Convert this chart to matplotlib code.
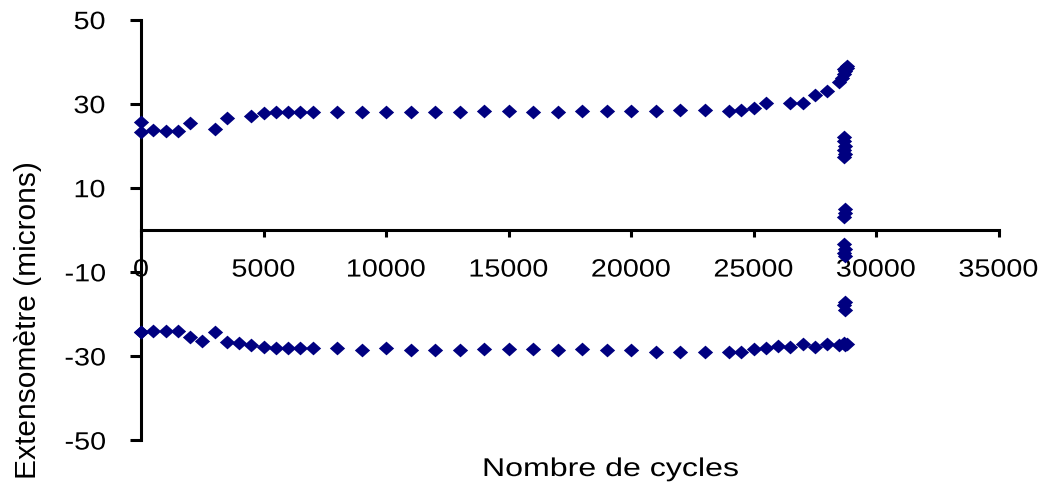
import numpy as np
import matplotlib
matplotlib.use("Agg")
import matplotlib.pyplot as plt
from matplotlib.patheffects import AbstractPathEffect
from matplotlib.transforms import Affine2D
from matplotlib.path import Path

plt.rcParams['font.family'] = ['Liberation Sans', 'DejaVu Sans']
plt.rcParams['axes.unicode_minus'] = False

# maximum of each cycle (upper branch)
cycles_up = [0, 0, 500, 1000, 1500, 2000, 3000, 3500, 4500, 5000, 5500, 6000, 6500, 7000,
             8000, 9000, 10000, 11000, 12000, 13000, 14000, 15000, 16000, 17000, 18000,
             19000, 20000, 21000, 22000, 23000, 24000, 24500, 25000, 25500, 26500, 27000,
             27500, 28000, 28500]
ext_up = [25.7, 23.3, 23.7, 23.6, 23.6, 25.3, 24.0, 26.5, 27.1, 27.7, 27.9, 27.9, 27.9, 27.9,
          27.9, 27.9, 27.9, 27.9, 27.9, 27.9, 28.3, 28.3, 27.9, 27.9, 28.3,
          28.2, 28.3, 28.2, 28.6, 28.6, 28.2, 28.6, 29.0, 30.2, 30.2, 30.2,
          32.0, 33.1, 35.2]

# minimum of each cycle (lower branch)
cycles_low = [0, 0, 500, 1000, 1500, 2000, 2500, 3000, 3500, 4000, 4500, 5000, 5500, 6000,
              6500, 7000, 8000, 9000, 10000, 11000, 12000, 13000, 14000, 15000, 16000,
              17000, 18000, 19000, 20000, 21000, 22000, 23000, 24000, 24500, 25000, 25500,
              26000, 26500, 27000, 27500, 28000, 28500]
ext_low = [-24.2, -24.2, -24.0, -24.0, -24.0, -25.4, -26.4, -24.4, -26.6, -27.0, -27.4, -27.8,
           -28.0, -28.2, -28.0, -28.2, -28.2, -28.6, -28.2, -28.6, -28.6, -28.6, -28.4,
           -28.4, -28.4, -28.6, -28.4, -28.6, -28.6, -29.0, -29.0, -29.0, -29.0, -29.0,
           -28.4, -28.2, -27.6, -27.8, -27.2, -27.8, -27.2, -27.3]

# points at rupture
cycles_fail = [28600, 28700, 28750, 28800, 28800, 28700,
               28700, 28700, 28750, 28700, 28750, 28700,
               28750, 28750, 28700,
               28700, 28750, 28700, 28750,
               28750, 28700, 28750,
               28700, 28750, 28800]
ext_fail = [36.0, 37.0, 37.8, 38.5, 39.0, 38.2,
            22.0, 21.0, 20.0, 19.0, 18.0, 17.2,
            5.0, 4.0, 3.0,
            -3.5, -4.5, -5.5, -6.2,
            -17.2, -18.0, -19.0,
            -27.0, -27.5, -27.2]

x_ticks = [0, 5000, 10000, 15000, 20000, 25000, 30000, 35000]
y_ticks = [-50, -30, -10, 10, 30, 50]


class Stretch(AbstractPathEffect):
    # widen the glyphs around the centre of the text
    def __init__(self, sx=1.0, sy=1.0):
        super().__init__()
        self.sx = sx
        self.sy = sy

    def draw_path(self, renderer, gc, tpath, affine, rgbFace=None):
        ext = affine.transform_path(tpath).get_extents()
        cx = ext.x0 + ext.width / 2
        cy = ext.y0 + ext.height / 2
        st = Affine2D().translate(-cx, -cy).scale(self.sx, self.sy).translate(cx, cy)
        renderer.draw_path(gc, tpath, affine + st, rgbFace)


diamond = Path([(-1, 0), (0, 0.9), (1, 0), (0, -0.9), (-1, 0)],
               [Path.MOVETO, Path.LINETO, Path.LINETO, Path.LINETO, Path.CLOSEPOLY])

fig = plt.figure(figsize=(10.5, 4.82), dpi=100)
ax = fig.add_axes([0.1343, 0.0871, 0.8167, 0.8724])

xs = cycles_up + cycles_low + cycles_fail
ys = ext_up + ext_low + ext_fail
ax.plot(xs, ys, linestyle='none', marker=diamond, markersize=11,
        color='#000080', markeredgewidth=0, clip_on=False, zorder=3)

ax.set_xlim(0, 35000)
ax.set_ylim(-50, 50)
ax.set_xticks(x_ticks)
ax.set_yticks(y_ticks)

ax.spines['top'].set_visible(False)
ax.spines['right'].set_visible(False)
ax.spines['bottom'].set_position(('data', 0))
ax.spines['bottom'].set_linewidth(2.2)
ax.spines['left'].set_linewidth(2.2)

ax.tick_params(axis='x', direction='out', length=5, width=2.2, pad=15, labelsize=18)
ax.tick_params(axis='y', direction='out', length=8, width=2.2, pad=19, labelsize=18)

for lab in ax.get_xticklabels() + ax.get_yticklabels():
    lab.set_path_effects([Stretch(1.15, 1.0)])

t = fig.text(611 / 1050, 1 - 469 / 482, 'Nombre de cycles', ha='center', va='center',
             fontsize=18.5)
t.set_path_effects([Stretch(1.25, 1.0)])
fig.text(28 / 1050, 1 - 320 / 482, 'Extensomètre (microns)', ha='center', va='center',
         rotation=90, fontsize=21.5)

fig.savefig('out.png', dpi=100)
